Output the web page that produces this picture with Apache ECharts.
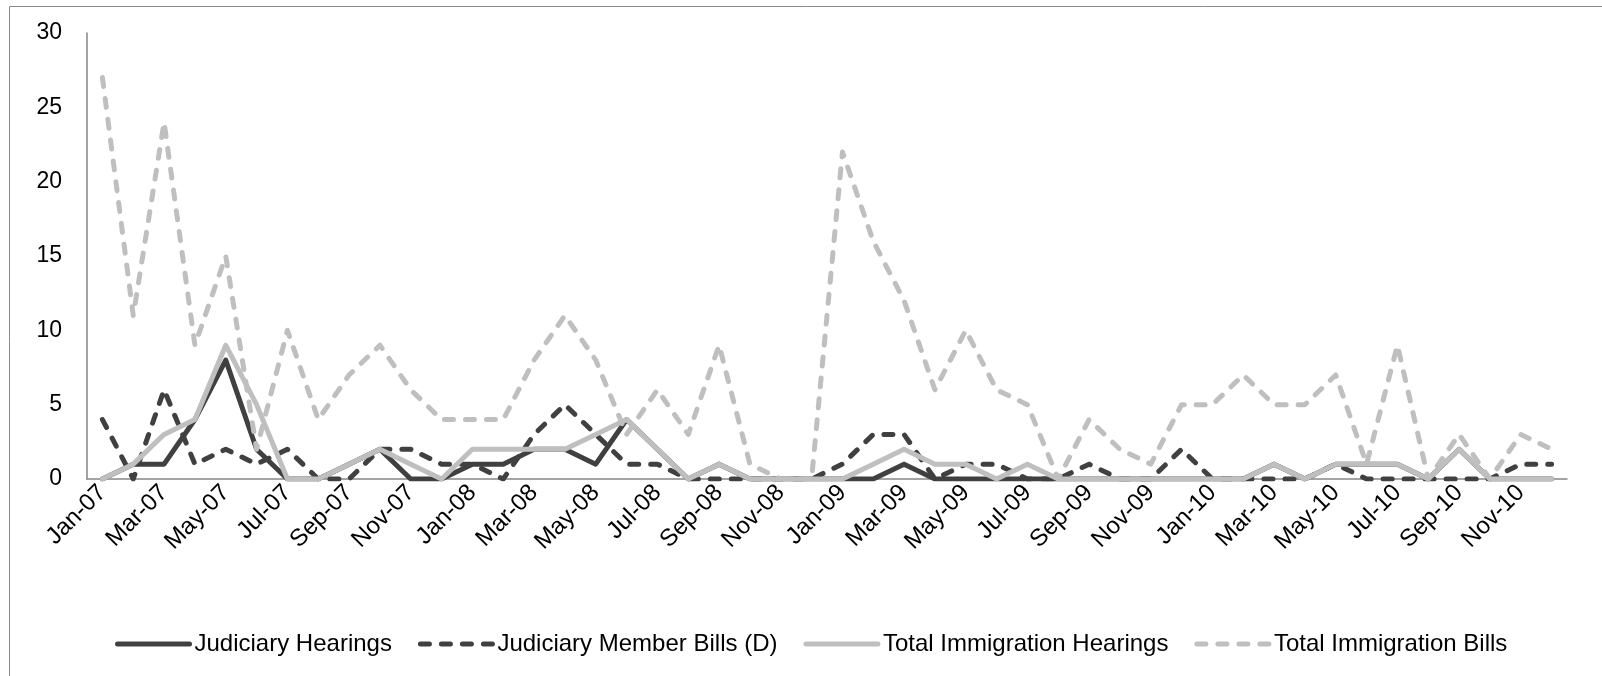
<!DOCTYPE html>
<html>
<head>
<meta charset="utf-8">
<script src="https://cdn.jsdelivr.net/npm/echarts@6/dist/echarts.min.js"></script>
<style>
html,body{margin:0;padding:0;background:#fff;}
#chart{width:1602px;height:676px;}
</style>
</head>
<body>
<div id="chart"></div>
<script>
const months = [
  'Jan-07','Feb-07','Mar-07','Apr-07','May-07','Jun-07','Jul-07','Aug-07','Sep-07','Oct-07','Nov-07','Dec-07',
  'Jan-08','Feb-08','Mar-08','Apr-08','May-08','Jun-08','Jul-08','Aug-08','Sep-08','Oct-08','Nov-08','Dec-08',
  'Jan-09','Feb-09','Mar-09','Apr-09','May-09','Jun-09','Jul-09','Aug-09','Sep-09','Oct-09','Nov-09','Dec-09',
  'Jan-10','Feb-10','Mar-10','Apr-10','May-10','Jun-10','Jul-10','Aug-10','Sep-10','Oct-10','Nov-10','Dec-10'
];
const judiciaryHearings = [
  0,1,1,4,8,2,0,0,1,2,0,0,
  1,1,2,2,1,4,2,0,1,0,0,0,
  0,0,1,0,0,0,0,0,0,0,0,0,
  0,0,1,0,1,1,1,0,2,0,0,0
];
const judiciaryMemberBills = [
  4,0,6,1,2,1,2,0,0,2,2,1,
  1,0,3,5,3,1,1,0,0,0,0,0,
  1,3,3,0,1,1,0,0,1,0,0,2,
  0,0,0,0,1,0,0,0,0,0,1,1
];
const totalImmigrationHearings = [
  0,1,3,4,9,5,0,0,1,2,1,0,
  2,2,2,2,3,4,2,0,1,0,0,0,
  0,1,2,1,1,0,1,0,0,0,0,0,
  0,0,1,0,1,1,1,0,2,0,0,0
];
const totalImmigrationBills = [
  27,11,24,9,15,2,10,4,7,9,6,4,
  4,4,8,11,8,3,6,3,9,1,0,0,
  22,16,12,6,10,6,5,0,4,2,1,5,
  5,7,5,5,7,1,9,0,3,0,3,2
];
const yTicks = [0,5,10,15,20,25,30];
const seriesNames = ['Judiciary Hearings','Judiciary Member Bills (D)','Total Immigration Hearings','Total Immigration Bills'];

const FONT = "'Liberation Sans', Arial, sans-serif";
const DARK = '#404040', LIGHT = '#BFBFBF';
const LW = 5;
const dash = [9, 12];

function mk(name, data, color, dashed) {
  return {
    name: name, type: 'line', data: data, symbol: 'none', smooth: false,
    lineStyle: { color: color, width: LW, type: dashed ? dash : 'solid', cap: 'round', join: 'round' },
    itemStyle: { color: color },
    emphasis: { disabled: true }, animation: false
  };
}

const chart = echarts.init(document.getElementById('chart'), null, { renderer: 'canvas' });
chart.setOption({
  backgroundColor: '#fff',
  animation: false,
  graphic: [{
    type: 'rect', left: 7, top: 4, shape: { width: 1700, height: 800 },
    style: { fill: 'none', stroke: '#898989', lineWidth: 1 }, silent: true
  }],
  grid: { left: 87, right: 35, top: 33, bottom: 197, containLabel: false },
  legend: {
    data: seriesNames,
    left: 110, top: 627,
    itemWidth: 72, itemHeight: 14, itemGap: 26,
    itemStyle: { opacity: 0 },
    lineStyle: { width: LW, cap: 'round' },
    textStyle: { fontFamily: FONT, fontSize: 24, color: '#000' }
  },
  xAxis: {
    type: 'category', data: months, boundaryGap: true,
    axisLine: { show: true, lineStyle: { color: '#868686', width: 1.5 } },
    axisTick: { show: false },
    axisLabel: { interval: 1, rotate: 45, margin: 10, fontFamily: FONT, fontSize: 24, color: '#000' },
    splitLine: { show: false }
  },
  yAxis: {
    type: 'value', min: yTicks[0], max: yTicks[yTicks.length - 1], interval: 5,
    axisLine: { show: true, lineStyle: { color: '#868686', width: 1.5 } },
    axisTick: { show: false },
    axisLabel: { margin: 25, fontFamily: FONT, fontSize: 23, color: '#000' },
    splitLine: { show: false }
  },
  series: [
    mk(seriesNames[0], judiciaryHearings, DARK, false),
    mk(seriesNames[1], judiciaryMemberBills, DARK, true),
    mk(seriesNames[2], totalImmigrationHearings, LIGHT, false),
    mk(seriesNames[3], totalImmigrationBills, LIGHT, true)
  ]
});
</script>
</body>
</html>
